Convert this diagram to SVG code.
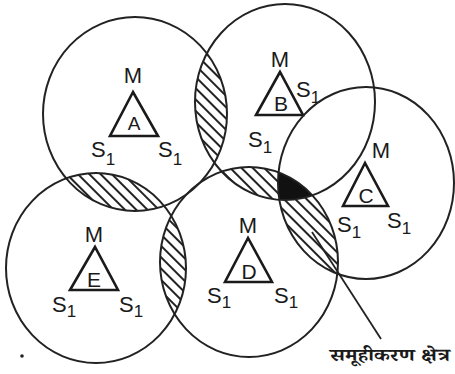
<svg xmlns="http://www.w3.org/2000/svg" width="455" height="374" viewBox="0 0 455 374">
<style>
.cell{fill:none;stroke:#222;stroke-width:2}
.tri{fill:none;stroke:#1a1a1a;stroke-width:2.6;stroke-linejoin:miter}
.t{font-family:"Liberation Sans",Arial,Helvetica,sans-serif;fill:#1a1a1a;font-size:22px}
.in{font-family:"Liberation Sans",Arial,Helvetica,sans-serif;fill:#1a1a1a;font-size:21px;text-anchor:middle}
.m{text-anchor:middle}
.sub{font-size:17px}
.lbl{font-family:"Noto Serif Devanagari","Noto Sans Devanagari","Lohit Devanagari","Mangal",serif;font-size:18px;fill:#1a1a1a;font-weight:bold}
.lead{stroke:#222;stroke-width:1.8;fill:none}
</style>
<defs>
<pattern id="hatch" patternUnits="userSpaceOnUse" width="8" height="8" patternTransform="rotate(45)">
<line x1="0" y1="4" x2="8" y2="4" stroke="#222" stroke-width="2"/>
</pattern>
<clipPath id="cA"><ellipse cx="135" cy="114" rx="92" ry="97"/></clipPath>
<clipPath id="cB"><ellipse cx="285" cy="102" rx="90" ry="98"/></clipPath>
<clipPath id="cC"><ellipse cx="366" cy="183" rx="88" ry="96"/></clipPath>
<clipPath id="cD"><ellipse cx="249" cy="262" rx="89" ry="95"/></clipPath>
<clipPath id="cE"><ellipse cx="96" cy="268" rx="90" ry="95"/></clipPath>
</defs>
<rect width="455" height="374" fill="#fff"/>

<g id="overlaps">
<g clip-path="url(#cA)"><ellipse cx="285" cy="102" rx="90" ry="98" fill="url(#hatch)"/></g>
<g clip-path="url(#cA)"><ellipse cx="96" cy="268" rx="90" ry="95" fill="url(#hatch)"/></g>
<g clip-path="url(#cB)"><ellipse cx="249" cy="262" rx="89" ry="95" fill="url(#hatch)"/></g>
<g clip-path="url(#cC)"><ellipse cx="249" cy="262" rx="89" ry="95" fill="url(#hatch)"/></g>
<g clip-path="url(#cE)"><ellipse cx="249" cy="262" rx="89" ry="95" fill="url(#hatch)"/></g>
<g clip-path="url(#cB)"><g clip-path="url(#cC)"><ellipse cx="249" cy="262" rx="89" ry="95" fill="#111"/></g></g>
</g>

<g id="node-A">
<ellipse class="cell" cx="135" cy="114" rx="92" ry="97"/>
<text class="t m" x="133" y="83">M</text>
<polygon class="tri" points="133,92 110,136 158,136"/>
<text class="in" x="134" y="130" style="font-size:19px">A</text>
<text class="t" x="91" y="157">S<tspan class="sub" dy="8">1</tspan></text>
<text class="t" x="158" y="157">S<tspan class="sub" dy="8">1</tspan></text>
</g>

<g id="node-B">
<ellipse class="cell" cx="285" cy="102" rx="90" ry="98"/>
<text class="t m" x="280" y="67">M</text>
<polygon class="tri" points="280,72 256,115 303,115"/>
<text class="in" x="281" y="111">B</text>
<text class="t" x="296" y="97">S<tspan class="sub" dy="6">1</tspan></text>
<text class="t" x="248" y="147">S<tspan class="sub" dy="6">1</tspan></text>
</g>

<g id="node-C">
<ellipse class="cell" cx="366" cy="183" rx="88" ry="96"/>
<text class="t m" x="381" y="158">M</text>
<polygon class="tri" points="365,163 343,206 388,206"/>
<text class="in" x="366" y="203">C</text>
<text class="t" x="337" y="232">S<tspan class="sub" dy="6">1</tspan></text>
<text class="t" x="387" y="228">S<tspan class="sub" dy="6">1</tspan></text>
</g>

<g id="node-D">
<ellipse class="cell" cx="249" cy="262" rx="89" ry="95"/>
<text class="t m" x="248" y="233">M</text>
<polygon class="tri" points="248,238 225,282 272,282"/>
<text class="in" x="249" y="279">D</text>
<text class="t" x="207" y="303">S<tspan class="sub" dy="5">1</tspan></text>
<text class="t" x="274" y="303">S<tspan class="sub" dy="5">1</tspan></text>
</g>

<g id="node-E">
<ellipse class="cell" cx="96" cy="268" rx="90" ry="95"/>
<text class="t m" x="94" y="242">M</text>
<polygon class="tri" points="95,247 70,290 118,290"/>
<text class="in" x="94" y="287">E</text>
<text class="t" x="52" y="312">S<tspan class="sub" dy="5">1</tspan></text>
<text class="t" x="119" y="312">S<tspan class="sub" dy="5">1</tspan></text>
</g>

<g id="connectors">
<line class="lead" x1="312" y1="232" x2="381" y2="339"/>
</g>

<g id="label">
<text class="lbl" x="330" y="361" textLength="120" lengthAdjust="spacingAndGlyphs">समूहीकरण क्षेत्र</text>
</g>
<circle cx="22" cy="356" r="1.8" fill="#222"/>
</svg>
